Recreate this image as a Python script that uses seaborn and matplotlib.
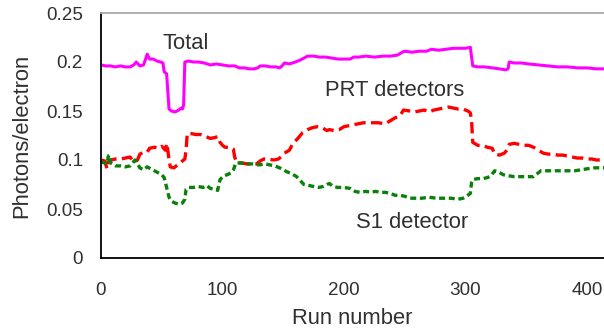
import numpy as np
import pandas as pd
import matplotlib
matplotlib.use("Agg")
import matplotlib.pyplot as plt
import seaborn as sns
from matplotlib.ticker import MultipleLocator

# Light yield per run for the combined system and its two detector groups
total_runs = [0, 4, 8, 12, 16, 20, 24, 27, 29, 32, 35, 37, 38, 40, 43, 46, 49, 51, 52, 54,
              55, 56, 58, 61, 64, 66, 67, 68, 69, 72, 76, 80, 85, 90, 95, 100, 105, 110, 114,
              118, 122, 126, 129, 131, 135, 140, 144, 147, 149, 151, 155, 160, 164, 167, 170,
              175, 180, 185, 190, 195, 200, 205, 208, 212, 218, 225, 232, 238, 244, 248, 250,
              256, 262, 268, 272, 278, 284, 290, 296, 300, 304, 305, 306, 310, 316, 322, 328,
              333, 335, 336, 340, 346, 352, 360, 368, 376, 384, 392, 400, 408, 414]
total_vals = [0.197, 0.196, 0.196, 0.195, 0.196, 0.195, 0.195, 0.197, 0.200, 0.196, 0.197,
              0.204, 0.208, 0.203, 0.203, 0.201, 0.200, 0.199, 0.190, 0.188, 0.170, 0.152,
              0.150, 0.149, 0.151, 0.153, 0.152, 0.156, 0.200, 0.201, 0.200, 0.200, 0.199,
              0.197, 0.198, 0.197, 0.196, 0.196, 0.194, 0.194, 0.193, 0.193, 0.194, 0.196,
              0.196, 0.195, 0.195, 0.194, 0.196, 0.199, 0.198, 0.200, 0.202, 0.204, 0.206,
              0.206, 0.205, 0.205, 0.204, 0.203, 0.203, 0.203, 0.205, 0.205, 0.206, 0.205,
              0.206, 0.206, 0.207, 0.210, 0.211, 0.210, 0.211, 0.211, 0.213, 0.212, 0.213,
              0.214, 0.214, 0.214, 0.215, 0.205, 0.196, 0.195, 0.195, 0.194, 0.193, 0.192,
              0.193, 0.200, 0.199, 0.199, 0.198, 0.197, 0.196, 0.195, 0.195, 0.194, 0.194,
              0.193, 0.193]

prt_runs = [0, 3, 5, 6, 8, 12, 16, 20, 24, 26, 28, 30, 32, 35, 38, 40, 44, 48, 50, 53, 54,
            55, 56, 57, 60, 63, 66, 69, 70, 71, 74, 78, 82, 86, 90, 94, 96, 98, 100, 102, 106,
            109, 110, 112, 116, 120, 124, 128, 131, 134, 138, 142, 146, 149, 151, 155, 158,
            162, 166, 170, 174, 178, 182, 186, 188, 192, 196, 200, 204, 208, 212, 216, 222,
            228, 234, 238, 242, 246, 249, 254, 258, 262, 266, 270, 274, 278, 282, 286, 290,
            294, 298, 302, 304, 305, 306, 310, 314, 318, 322, 324, 328, 332, 334, 336, 340,
            344, 348, 352, 356, 360, 364, 368, 372, 376, 380, 384, 388, 392, 396, 400, 404,
            408, 414]
prt_vals = [0.100, 0.099, 0.091, 0.098, 0.100, 0.101, 0.101, 0.102, 0.103, 0.099, 0.098,
            0.100, 0.106, 0.108, 0.108, 0.112, 0.113, 0.112, 0.114, 0.110, 0.117, 0.110,
            0.100, 0.093, 0.092, 0.095, 0.098, 0.101, 0.110, 0.127, 0.127, 0.126, 0.126,
            0.124, 0.122, 0.123, 0.124, 0.118, 0.115, 0.113, 0.113, 0.111, 0.103, 0.097,
            0.097, 0.096, 0.096, 0.096, 0.099, 0.101, 0.101, 0.100, 0.101, 0.104, 0.107,
            0.110, 0.117, 0.122, 0.128, 0.131, 0.133, 0.134, 0.133, 0.130, 0.131, 0.130,
            0.131, 0.134, 0.135, 0.136, 0.137, 0.138, 0.138, 0.138, 0.137, 0.140, 0.143,
            0.145, 0.151, 0.150, 0.149, 0.150, 0.151, 0.149, 0.151, 0.152, 0.153, 0.154,
            0.153, 0.152, 0.152, 0.150, 0.148, 0.140, 0.118, 0.115, 0.115, 0.113, 0.112,
            0.106, 0.105, 0.107, 0.110, 0.116, 0.117, 0.116, 0.115, 0.115, 0.113, 0.110,
            0.107, 0.106, 0.106, 0.105, 0.105, 0.104, 0.103, 0.102, 0.102, 0.101, 0.101,
            0.100, 0.100]

s1_runs = [0, 3, 5, 6, 7, 8, 12, 16, 20, 24, 26, 28, 30, 32, 35, 38, 41, 44, 47, 50, 52, 54,
           56, 58, 61, 64, 67, 69, 70, 72, 76, 80, 84, 87, 90, 94, 96, 98, 101, 104, 107, 109,
           111, 115, 120, 125, 130, 135, 139, 143, 147, 150, 153, 157, 161, 164, 167, 171,
           175, 179, 183, 186, 188, 191, 195, 200, 205, 209, 213, 218, 222, 226, 230, 234,
           238, 242, 246, 250, 254, 258, 264, 270, 276, 282, 288, 294, 298, 301, 304, 305,
           306, 310, 314, 318, 321, 324, 327, 331, 335, 340, 345, 350, 356, 359, 362, 367,
           372, 378, 384, 390, 395, 400, 406, 414]
s1_vals = [0.098, 0.097, 0.096, 0.104, 0.105, 0.097, 0.094, 0.094, 0.093, 0.094, 0.097,
           0.100, 0.096, 0.092, 0.090, 0.093, 0.091, 0.089, 0.087, 0.085, 0.082, 0.072,
           0.062, 0.058, 0.056, 0.055, 0.056, 0.060, 0.070, 0.072, 0.072, 0.073, 0.072,
           0.074, 0.071, 0.070, 0.069, 0.080, 0.084, 0.085, 0.087, 0.090, 0.097, 0.097,
           0.096, 0.096, 0.095, 0.096, 0.095, 0.094, 0.092, 0.090, 0.088, 0.086, 0.083,
           0.079, 0.075, 0.074, 0.073, 0.072, 0.073, 0.075, 0.076, 0.073, 0.072, 0.072,
           0.071, 0.068, 0.067, 0.068, 0.067, 0.068, 0.067, 0.067, 0.066, 0.064, 0.064,
           0.063, 0.061, 0.061, 0.061, 0.062, 0.061, 0.061, 0.061, 0.060, 0.061, 0.063,
           0.066, 0.077, 0.080, 0.081, 0.081, 0.082, 0.084, 0.089, 0.088, 0.085, 0.084,
           0.083, 0.083, 0.083, 0.083, 0.086, 0.089, 0.089, 0.089, 0.089, 0.089, 0.089,
           0.090, 0.091, 0.092, 0.092]

x_ticks = [0, 100, 200, 300, 400]
y_ticks = [0, 0.05, 0.1, 0.15, 0.2, 0.25]
y_tick_labels = ["0", "0.05", "0.1", "0.15", "0.2", "0.25"]

sns.set_style("white")
plt.rcParams["font.family"] = ["Liberation Sans", "DejaVu Sans"]
text_color = "#303030"

fig = plt.figure(figsize=(6.04, 3.30), dpi=100)
ax = fig.add_axes([101 / 604, 1 - 258 / 330, 503 / 604, 245 / 330])

total_df = pd.DataFrame({"run": total_runs, "value": total_vals})
prt_df = pd.DataFrame({"run": prt_runs, "value": prt_vals})
s1_df = pd.DataFrame({"run": s1_runs, "value": s1_vals})

sns.lineplot(data=total_df, x="run", y="value", color="#ff00ff", lw=2.2,
             estimator=None, ax=ax)
sns.lineplot(data=prt_df, x="run", y="value", color="#ff0000", lw=2.4,
             estimator=None, ax=ax)
ax.lines[-1].set_dashes([3.4, 1.6])
sns.lineplot(data=s1_df, x="run", y="value", color="#0a800a", lw=2.4,
             estimator=None, ax=ax)
ax.lines[-1].set_dashes([1.8, 1.1])

ax.set_xlim(0, 414)
ax.set_ylim(0, 0.25)
ax.set_xticks(x_ticks)
ax.set_yticks(y_ticks)
ax.set_yticklabels(y_tick_labels)
ax.xaxis.set_minor_locator(MultipleLocator(50))
ax.yaxis.set_minor_locator(MultipleLocator(0.025))

ax.tick_params(axis="x", which="both", direction="in", length=4, width=0.8,
               color="#9a9a9a", pad=17.5, labelsize=13.6, labelcolor=text_color)
ax.tick_params(axis="y", which="major", length=0, pad=13, labelsize=13.6,
               labelcolor=text_color)
ax.tick_params(axis="y", which="minor", direction="in", length=4, width=0.8,
               color="#9a9a9a")

for side in ["left", "bottom"]:
    ax.spines[side].set_color("black")
    ax.spines[side].set_linewidth(1.3)
ax.spines["top"].set_color("#a8a8a8")
ax.spines["top"].set_linewidth(1.3)
ax.spines["right"].set_visible(False)

ax.set_xlabel("Run number", fontsize=15.8, color=text_color, labelpad=6.5)
ax.set_ylabel("Photons/electron", fontsize=15.8, color=text_color, labelpad=10)

ax.text(70, 0.2184, "Total", fontsize=15.8, color=text_color, ha="center", va="center")
ax.text(242, 0.1714, "PRT detectors", fontsize=15.8, color=text_color,
        ha="center", va="center")
ax.text(256, 0.0367, "S1 detector", fontsize=15.8, color=text_color,
        ha="center", va="center")

fig.savefig("out.png", dpi=100)
